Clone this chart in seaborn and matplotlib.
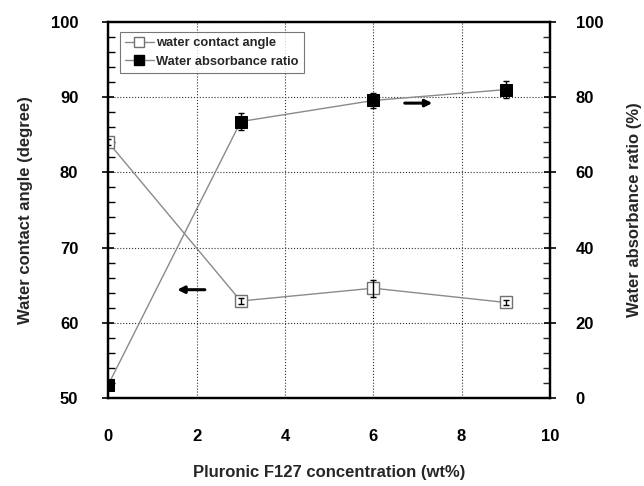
import matplotlib
matplotlib.use("Agg")
import matplotlib.pyplot as plt
from matplotlib.ticker import MultipleLocator
from matplotlib.lines import Line2D
import pandas as pd
import seaborn as sns

# data
conc = [0, 3, 6, 9]
contact_angle = [84.0, 62.9, 64.6, 62.7]
contact_err = [0.4, 0.4, 1.15, 0.3]
absorbance = [3.5, 73.5, 79.1, 82.0]
absorbance_err = [0.5, 2.2, 2.1, 2.2]

df = pd.DataFrame({'conc': conc, 'angle': contact_angle, 'angle_err': contact_err,
                   'absorb': absorbance, 'absorb_err': absorbance_err})

sns.set_style('white')
plt.rcParams['font.family'] = ['Liberation Sans', 'DejaVu Sans']
plt.rcParams['font.weight'] = 'bold'

fig = plt.figure(figsize=(6.44, 4.86), dpi=100)
ax = fig.add_axes([0.168, 0.181, 0.686, 0.774])
ax2 = ax.twinx()

line_col = '#8a8a8a'

# water contact angle (left axis)
sns.lineplot(data=df, x='conc', y='angle', ax=ax, color=line_col, lw=1.0,
             marker='s', markersize=8, markerfacecolor='white',
             markeredgecolor='#707070', markeredgewidth=1.0, zorder=3)
ax.errorbar(df['conc'], df['angle'], yerr=df['angle_err'], fmt='none',
            ecolor='black', elinewidth=1.0, capsize=2.5, zorder=4)

# water absorbance ratio (right axis)
sns.lineplot(data=df, x='conc', y='absorb', ax=ax2, color=line_col, lw=1.0,
             marker='s', markersize=9, markerfacecolor='black',
             markeredgecolor='black', zorder=3)
ax2.errorbar(df['conc'], df['absorb'], yerr=df['absorb_err'], fmt='none',
             ecolor='black', elinewidth=1.0, capsize=2.5, zorder=2)

ax.set_xlim(0, 10)
ax.set_ylim(50, 100)
ax2.set_ylim(0, 100)

ax.xaxis.set_major_locator(MultipleLocator(2))
ax.xaxis.set_minor_locator(MultipleLocator(0.4))
ax.yaxis.set_major_locator(MultipleLocator(10))
ax.yaxis.set_minor_locator(MultipleLocator(2))
ax2.yaxis.set_major_locator(MultipleLocator(20))
ax2.yaxis.set_minor_locator(MultipleLocator(4))

ax.grid(True, which='major', linestyle=':', linewidth=0.8, color='#333333')
ax.set_axisbelow(True)

for a in (ax, ax2):
    for s in a.spines.values():
        s.set_linewidth(1.6)
        s.set_color('black')

ax.tick_params(axis='both', which='major', direction='inout', length=9, width=1.2,
               labelsize=12, pad=17, colors='black')
ax.tick_params(axis='both', which='minor', direction='in', length=5, width=1.0,
               colors='black')
ax.tick_params(axis='x', which='major', pad=18)
ax2.tick_params(axis='y', which='major', direction='inout', length=9, width=1.2,
                labelsize=12, pad=14, colors='black')
ax2.tick_params(axis='y', which='minor', direction='in', length=5, width=1.0)

ax.set_xlabel('Pluronic F127 concentration (wt%)', fontsize=12, fontweight='bold',
              labelpad=15)
ax.set_ylabel('Water contact angle (degree)', fontsize=12, fontweight='bold',
              labelpad=13)
ax2.set_ylabel('Water absorbance ratio (%)', fontsize=12, fontweight='bold',
               labelpad=17)

# arrows pointing to the matching axis
ax.annotate('', xy=(1.5, 64.4), xytext=(2.25, 64.4),
            arrowprops=dict(arrowstyle='-|>', color='black', lw=2.2,
                            mutation_scale=10))
ax.annotate('', xy=(7.4, 89.2), xytext=(6.65, 89.2),
            arrowprops=dict(arrowstyle='-|>', color='black', lw=2.2,
                            mutation_scale=10))

handles = [
    Line2D([], [], color=line_col, lw=1.0, marker='s', markersize=7,
           markerfacecolor='white', markeredgecolor='#707070'),
    Line2D([], [], color=line_col, lw=1.0, marker='s', markersize=7,
           markerfacecolor='black', markeredgecolor='black'),
]
leg = ax2.legend(handles, ['water contact angle', 'Water absorbance ratio'],
                 loc='upper left', bbox_to_anchor=(0.012, 0.99),
                 frameon=True, fancybox=False, handlelength=2.2,
                 handletextpad=0.2, borderpad=0.4, labelspacing=0.5,
                 prop={'weight': 'bold', 'size': 9.3})
leg.get_frame().set_edgecolor('#555555')
leg.get_frame().set_linewidth(0.8)

fig.savefig('out.png', dpi=100)
